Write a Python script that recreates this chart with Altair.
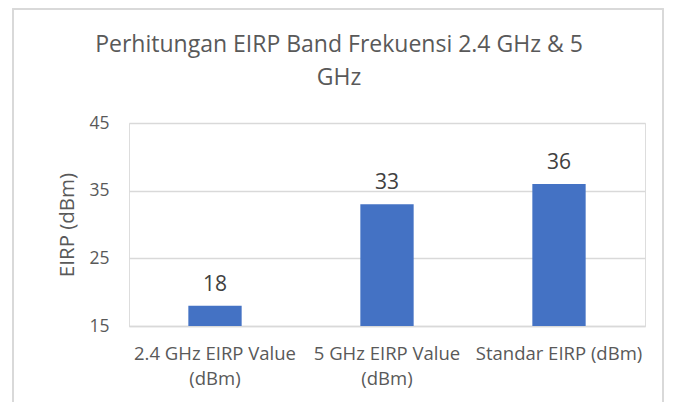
import altair as alt
import pandas as pd

categories = ["2.4 GHz EIRP Value (dBm)", "5 GHz EIRP Value (dBm)", "Standar EIRP (dBm)"]
values = [18, 33, 36]
title_lines = ["Perhitungan EIRP Band Frekuensi 2.4 GHz & 5", "GHz"]
y_title = "EIRP (dBm)"
y_ticks = [15, 25, 35, 45]

df = pd.DataFrame({"cat": categories, "val": values})

FONT = "Open Sans"
GREY = "#595959"

x_enc = alt.X(
    "cat:N",
    sort=categories,
    title=None,
    scale=alt.Scale(paddingInner=0.69, paddingOuter=0.345),
    axis=alt.Axis(
        labelAngle=0,
        labelFontSize=18.5,
        labelColor=GREY,
        labelFont=FONT,
        labelPadding=18,
        labelLineHeight=25,
        ticks=False,
        domainColor="#d9d9d9",
        domainWidth=1.5,
        labelExpr="datum.label == 'Standar EIRP (dBm)' ? datum.label : split(replace(datum.label, ' (dBm)', '|(dBm)'), '|')",
    ),
)
y_enc = alt.Y(
    "val:Q",
    title=y_title,
    scale=alt.Scale(domain=[15, 45], nice=False, zero=False),
    axis=alt.Axis(
        values=y_ticks,
        labelFontSize=17.5,
        labelColor=GREY,
        labelFont=FONT,
        labelPadding=20,
        ticks=False,
        domain=False,
        gridColor="#d9d9d9",
        gridWidth=1.5,
        titleFontSize=20.5,
        titleFont=FONT,
        titleFontWeight="normal",
        titleColor=GREY,
        titlePadding=11,
    ),
)

bars = alt.Chart(df).mark_bar(color="#4472C4", clip=True).encode(x=x_enc, y=y_enc)
text = alt.Chart(df).mark_text(
    baseline="bottom", dy=-11, fontSize=21, font=FONT, color="#404040"
).encode(x=alt.X("cat:N", sort=categories), y="val:Q", text="val:Q")

frame = alt.Chart(df).mark_rect(fill=None, stroke="#d9d9d9", strokeWidth=1.5).encode(
    x=alt.value(-116), x2=alt.value(534), y=alt.value(-114), y2=alt.value(300)
)

chart = (
    alt.layer(frame, bars, text)
    .properties(
        width=516,
        height=203,
        title=alt.TitleParams(
            text=title_lines,
            fontSize=23,
            font=FONT,
            fontWeight="normal",
            color=GREY,
            anchor="middle",
            lineHeight=33,
            offset=0,
            dy=82,
            dx=-48,
        ),
        padding={"left": 121, "top": 115, "right": 22, "bottom": 76},
        autosize=alt.AutoSizeParams(type="none"),
    )
    .configure_view(stroke=None)
    .configure(background="white")
)

chart.save("out.html", embed_options={"renderer": "svg", "actions": False})
